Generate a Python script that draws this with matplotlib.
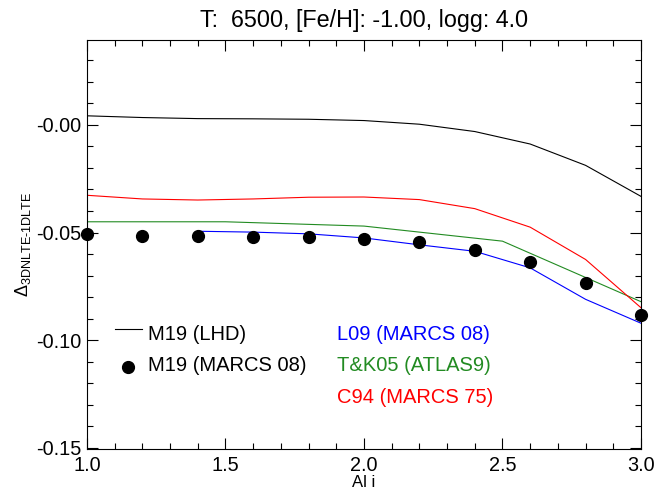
import numpy as np
import matplotlib
matplotlib.use("Agg")
import matplotlib.pyplot as plt
from matplotlib.ticker import FixedLocator, MultipleLocator

plt.rcParams['font.family'] = ['Liberation Sans', 'DejaVu Sans']
plt.rcParams['mathtext.fontset'] = 'custom'
plt.rcParams['mathtext.rm'] = 'Liberation Sans'
plt.rcParams['mathtext.it'] = 'Liberation Sans'

# values
x_grid = [1.0, 1.2, 1.4, 1.6, 1.8, 2.0, 2.2, 2.4, 2.6, 2.8, 3.0]
m19_lhd = [0.0042, 0.0034, 0.0029, 0.0028, 0.0026, 0.0020, 0.0003, -0.0031, -0.0089, -0.0188, -0.0332]
m19_marcs = [-0.0509, -0.0517, -0.0517, -0.0520, -0.0522, -0.0529, -0.0545, -0.0579, -0.0637, -0.0735, -0.0883]
c94 = [-0.0327, -0.0344, -0.0349, -0.0344, -0.0336, -0.0335, -0.0347, -0.0389, -0.0475, -0.0625, -0.0849]

x_l09 = [1.4, 1.6, 1.8, 2.0, 2.2, 2.4, 2.6, 2.8, 3.0]
l09 = [-0.0494, -0.0498, -0.0506, -0.0525, -0.0557, -0.0587, -0.0664, -0.0810, -0.0921]

x_tk05 = [1.0, 1.5, 2.0, 2.5, 3.0]
tk05 = [-0.0450, -0.0450, -0.0470, -0.0540, -0.0821]

title = "T:  6500, [Fe/H]: -1.00, logg: 4.0"
yticks = [0.0, -0.05, -0.10, -0.15]
ytick_labels = ["-0.00", "-0.05", "-0.10", "-0.15"]

fig = plt.figure(figsize=(6.57, 4.92), dpi=100)
ax = fig.add_axes([0.1324, 0.0874, 0.8432, 0.8313])

ax.plot(x_grid, m19_lhd, color="black", lw=0.8)
ax.plot(x_l09, l09, color="#0000ff", lw=0.8)
ax.plot(x_tk05, tk05, color="#228b22", lw=0.8)
ax.plot(x_grid, c94, color="#ff0000", lw=0.8)
ax.plot(x_grid, m19_marcs, "o", color="black", ms=8.5, clip_on=False, zorder=5)

ax.set_xlim(1.0, 3.0)
ax.set_ylim(-0.1505, 0.0394)

ax.xaxis.set_major_locator(MultipleLocator(0.5))
ax.xaxis.set_minor_locator(MultipleLocator(0.1))
ax.yaxis.set_major_locator(FixedLocator(yticks))
ax.set_yticklabels(ytick_labels)
ax.yaxis.set_minor_locator(MultipleLocator(0.01))
ax.xaxis.set_major_formatter(matplotlib.ticker.FormatStrFormatter("%.1f"))

ax.tick_params(which="both", direction="in", top=True, right=True, labelsize=14.3, width=0.8)
ax.tick_params(which="major", length=8)
ax.tick_params(which="minor", length=4)
ax.tick_params(axis="x", pad=5)
ax.tick_params(axis="y", pad=4)
for s in ax.spines.values():
    s.set_linewidth(0.8)

ax.set_title(title, fontsize=16.8, pad=9)
ax.set_xlabel("Al i", fontsize=12, labelpad=0)
ax.set_ylabel(r"$\Delta_{\mathrm{3DNLTE\text{-}1DLTE}}$", fontsize=13, labelpad=2)

# legend drawn as free text, like the original
ax.plot([1.101, 1.197], [-0.0949, -0.0949], color="black", lw=0.8)
ax.plot([1.149], [-0.1126], "o", color="black", ms=8.5)
left_labels = ["M19 (LHD)", "M19 (MARCS 08)"]
right_labels = ["L09 (MARCS 08)", "T&K05 (ATLAS9)", "C94 (MARCS 75)"]
right_colors = ["#0000ff", "#228b22", "#ff0000"]
rows_y = [-0.0972, -0.1119, -0.1265]
for i, lab in enumerate(left_labels):
    ax.text(1.221, rows_y[i], lab, fontsize=14.5, va="center", ha="left")
for i, lab in enumerate(right_labels):
    ax.text(1.901, rows_y[i], lab, fontsize=14.5, va="center", ha="left", color=right_colors[i])

fig.savefig("out.png", dpi=100)
